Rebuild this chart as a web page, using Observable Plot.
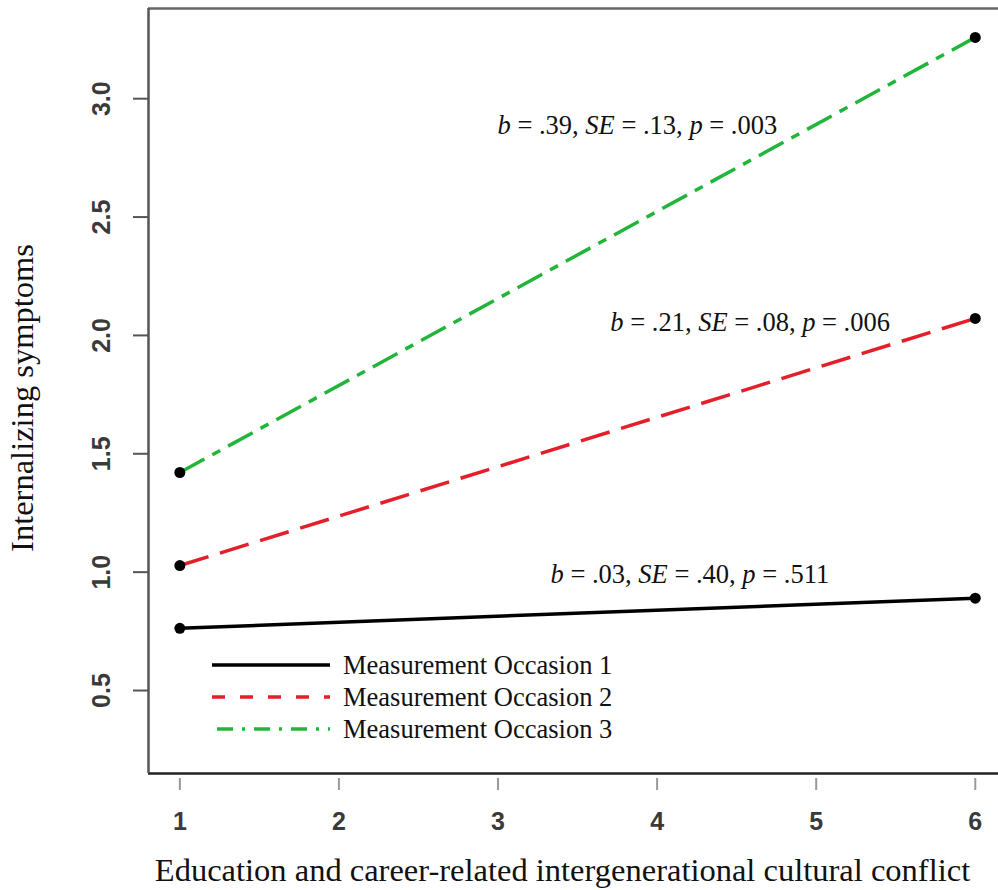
<!DOCTYPE html>
<html>
<head>
<meta charset="utf-8">
<script src="https://cdn.jsdelivr.net/npm/d3@7"></script>
<script src="https://cdn.jsdelivr.net/npm/@observablehq/plot@0.6"></script>
<style>
  html, body { margin: 0; padding: 0; background: #fff; }
  #wrap { position: relative; width: 998px; height: 890px; overflow: hidden; }
  #legend { position: absolute; left: 0; top: 0; pointer-events: none; }
</style>
</head>
<body>
<div id="wrap"></div>
<script>
// ---- data ----
const occasions = ["Measurement Occasion 1", "Measurement Occasion 2", "Measurement Occasion 3"];
const conflictLevels = [1, 6];
const occasion1 = [0.763, 0.89];
const occasion2 = [1.028, 2.072];
const occasion3 = [1.421, 3.259];
const yTicks = [0.5, 1.0, 1.5, 2.0, 2.5, 3.0];
const xTicks = [1, 2, 3, 4, 5, 6];
const annotationTexts = ["b = .39, SE = .13, p = .003", "b = .21, SE = .08, p = .006", "b = .03, SE = .40, p = .511"];
const annotationX = [2.997, 3.706, 3.33];
const annotationY = [2.887, 2.055, 0.99];
const xTitle = "Education and career-related intergenerational cultural conflict";
const yTitle = "Internalizing symptoms";

// ---- styles ----
const colors = ["#000000", "#e3202a", "#21b539"];
const dashes = [null, "30,12", "28,9,9,9"];
const legendDashes = [null, "13,15", "16,9,3,9"];
const serif = "'Liberation Serif', 'Times New Roman', serif";
const sans = "'Liberation Sans', Arial, Helvetica, sans-serif";

const series = [occasion1, occasion2, occasion3];
const rows = [];
series.forEach((vals, i) => vals.forEach((v, j) => rows.push({occasion: occasions[i], idx: i, x: conflictLevels[j], y: v})));
const annotations = annotationTexts.map((t, i) => ({text: t, x: annotationX[i], y: annotationY[i]}));

const xDomain = [0.803, 6.146];
const yDomain = [0.1495, 3.381];

const chart = Plot.plot({
  width: 998,
  height: 890,
  marginLeft: 148,
  marginRight: 0,
  marginTop: 8,
  marginBottom: 117,
  style: {background: "#fff", overflow: "visible"},
  x: {domain: xDomain, label: null},
  y: {domain: yDomain, label: null},
  marks: [
    // frame lines
    Plot.ruleY([yDomain[1]], {stroke: "#666", strokeWidth: 2.5}),
    Plot.ruleY([yDomain[0]], {stroke: "#222", strokeWidth: 2.5}),
    Plot.ruleX([xDomain[0]], {stroke: "#555", strokeWidth: 2.5}),
    // axes ticks
    Plot.axisY(yTicks, {tickSize: 15, tickFormat: () => "", stroke: "#555", strokeWidth: 2}),
    Plot.axisX(xTicks, {tickSize: 12, dy: 5, tickFormat: () => "", stroke: "#999", strokeWidth: 2}),
    // tick labels
    Plot.text(yTicks, {y: d => d, text: d => d.toFixed(1), frameAnchor: "left", dx: -47, rotate: -90,
      textAnchor: "middle", lineAnchor: "middle", fontWeight: "bold", fontSize: 25, fontFamily: sans, fill: "#3a3a3a"}),
    Plot.text(xTicks, {x: d => d, text: d => String(d), frameAnchor: "bottom", dy: 48, lineAnchor: "middle",
      fontWeight: "bold", fontSize: 25, fontFamily: sans, fill: "#3a3a3a"}),
    // titles
    Plot.text([xTitle], {text: d => d, frameAnchor: "bottom", dx: -11, dy: 97, lineAnchor: "middle", fontSize: 32.5, fontFamily: serif, fill: "#111"}),
    Plot.text([yTitle], {text: d => d, frameAnchor: "left", dx: -126, dy: 7, rotate: -90, lineAnchor: "middle", textAnchor: "middle", fontSize: 32.5, fontFamily: serif, fill: "#111"}),
    // lines
    ...occasions.map((o, i) => Plot.line(rows.filter(r => r.idx === i), {
      x: "x", y: "y", stroke: colors[i], strokeWidth: 3.5, strokeDasharray: dashes[i], strokeLinecap: "butt"
    })),
    Plot.dot(rows, {x: "x", y: "y", r: 5.5, fill: "#000"}),
    // annotations
    Plot.text(annotations, {x: "x", y: "y", text: "text", textAnchor: "start", lineAnchor: "middle", fontSize: 26.5, fontFamily: serif, fill: "#111", className: "annot"})
  ]
});

// italicise statistic symbols
d3.select(chart).selectAll(".annot text").each(function() {
  const t = this.textContent;
  const sel = d3.select(this);
  sel.text(null);
  const parts = t.split(/(\bb\b|\bSE\b|\bp\b)/).filter(s => s.length);
  parts.forEach(p => {
    const ts = sel.append("tspan").text(p);
    if (p === "b" || p === "SE" || p === "p") ts.attr("font-style", "italic");
  });
});

const wrap = document.getElementById("wrap");
wrap.appendChild(chart);

// legend overlay
const leg = d3.select(wrap).append("svg").attr("id", "legend").attr("width", 998).attr("height", 890);
const legX0 = 212, legX1 = 330, legTextX = 343, legY0 = 665, legStep = 32;
occasions.forEach((o, i) => {
  const y = legY0 + i * legStep;
  leg.append("line").attr("x1", i === 2 ? legX0 + 5 : legX0).attr("x2", legX1).attr("y1", y).attr("y2", y)
    .attr("stroke", colors[i]).attr("stroke-width", 3.5).attr("stroke-dasharray", legendDashes[i]);
  leg.append("text").attr("x", legTextX).attr("y", y).attr("dy", "0.35em")
    .attr("font-family", serif).attr("font-size", 26.5).attr("fill", "#111").text(o);
});
</script>
</body>
</html>
